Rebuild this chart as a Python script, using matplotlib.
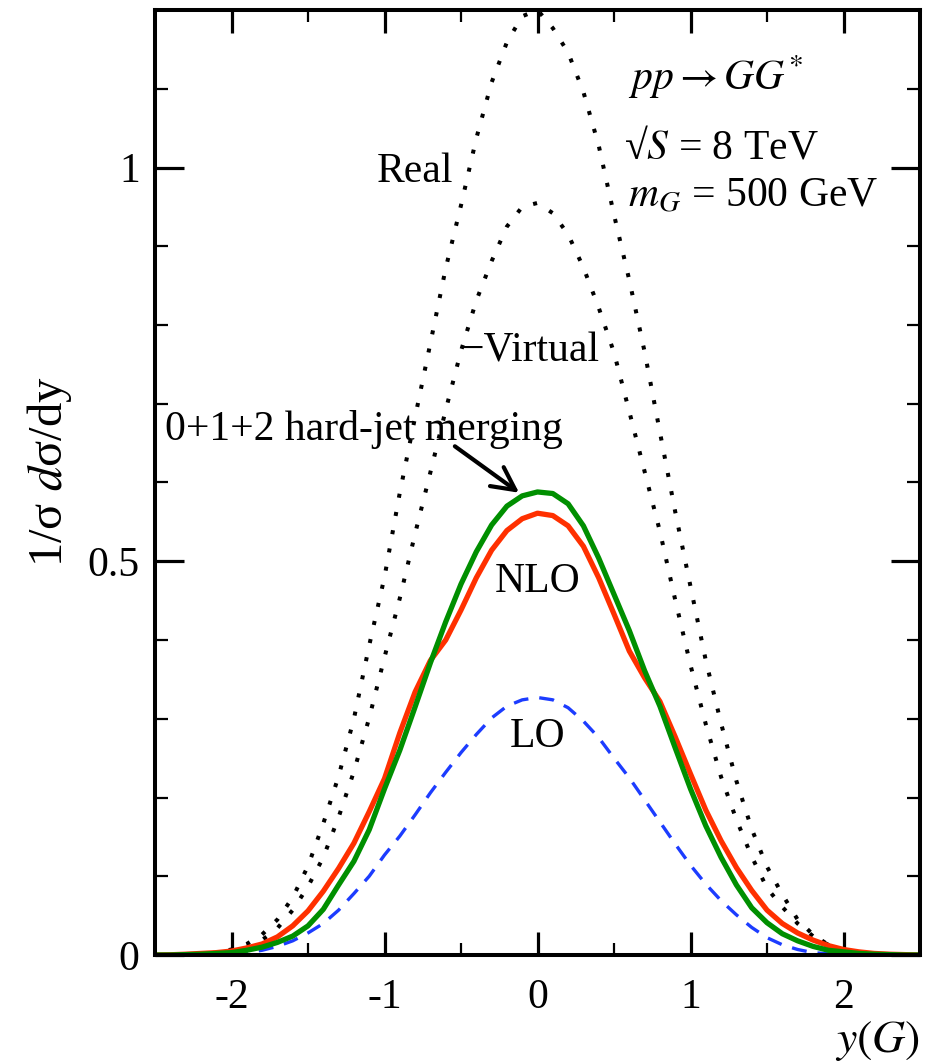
import matplotlib
matplotlib.use("Agg")
import matplotlib.pyplot as plt
from matplotlib.ticker import FixedLocator, MultipleLocator

plt.rcParams['font.family'] = ['Liberation Serif', 'DejaVu Serif']
plt.rcParams['mathtext.fontset'] = 'stix'
plt.rcParams['axes.unicode_minus'] = False

# ---------------- data ----------------
y_rap = [-2.5, -2.4, -2.3, -2.2, -2.1, -2.0, -1.9, -1.8, -1.7, -1.6, -1.5, -1.4, -1.3,
         -1.2, -1.1, -1.0, -0.9, -0.8, -0.7, -0.6, -0.5, -0.4, -0.3, -0.2, -0.1, 0.0,
         0.1, 0.2, 0.3, 0.4, 0.5, 0.6, 0.7, 0.8, 0.9, 1.0, 1.1, 1.2, 1.3, 1.4, 1.5,
         1.6, 1.7, 1.8, 1.9, 2.0, 2.1, 2.2, 2.3, 2.4, 2.5]

real = [0.0, 0.0, 0.0005, 0.001, 0.003, 0.007, 0.014, 0.026, 0.045, 0.073, 0.113, 0.167, 0.227,
        0.300, 0.393, 0.480, 0.587, 0.683, 0.777, 0.872, 0.952, 1.037, 1.108, 1.159, 1.192, 1.200,
        1.177, 1.146, 1.096, 1.028, 0.940, 0.857, 0.766, 0.664, 0.563, 0.468, 0.374, 0.294, 0.221, 0.160, 0.112,
        0.077, 0.045, 0.026, 0.013, 0.006, 0.003, 0.001, 0.0005, 0.0, 0.0]

virtual = [0.0, 0.0, 0.0003, 0.001, 0.002, 0.004, 0.009, 0.019, 0.034, 0.057, 0.087, 0.124, 0.175,
           0.233, 0.301, 0.378, 0.453, 0.535, 0.613, 0.692, 0.767, 0.831, 0.881, 0.925, 0.950, 0.955,
           0.942, 0.915, 0.873, 0.822, 0.765, 0.690, 0.614, 0.538, 0.451, 0.368, 0.293, 0.226, 0.172, 0.125, 0.085,
           0.061, 0.040, 0.024, 0.013, 0.006, 0.002, 0.001, 0.0003, 0.0, 0.0]

nlo = [0.0, 0.0003, 0.001, 0.002, 0.003, 0.005, 0.009, 0.014, 0.023, 0.037, 0.056, 0.081, 0.110,
       0.142, 0.182, 0.224, 0.282, 0.334, 0.374, 0.400, 0.438, 0.479, 0.514, 0.539, 0.554, 0.561,
       0.558, 0.545, 0.519, 0.479, 0.433, 0.386, 0.352, 0.322, 0.277, 0.230, 0.184, 0.145, 0.111, 0.082, 0.057,
       0.040, 0.028, 0.019, 0.012, 0.007, 0.004, 0.002, 0.001, 0.0005, 0.0]

merging = [0.0, 0.0, 0.0005, 0.001, 0.002, 0.003, 0.006, 0.010, 0.016, 0.024, 0.037, 0.058, 0.089,
           0.119, 0.159, 0.211, 0.260, 0.315, 0.371, 0.423, 0.471, 0.512, 0.546, 0.570, 0.583, 0.588,
           0.586, 0.573, 0.545, 0.504, 0.458, 0.412, 0.361, 0.316, 0.263, 0.211, 0.164, 0.124, 0.089, 0.060, 0.041,
           0.027, 0.018, 0.011, 0.006, 0.004, 0.002, 0.001, 0.0005, 0.0, 0.0]

lo = [0.0, 0.0, 0.0, 0.0003, 0.0006, 0.001, 0.003, 0.006, 0.011, 0.018, 0.028, 0.040, 0.057,
      0.078, 0.100, 0.127, 0.151, 0.178, 0.206, 0.232, 0.257, 0.280, 0.301, 0.316, 0.324, 0.327,
      0.324, 0.314, 0.297, 0.276, 0.250, 0.225, 0.197, 0.169, 0.141, 0.114, 0.090, 0.069, 0.051, 0.035, 0.022,
      0.013, 0.007, 0.003, 0.0015, 0.0008, 0.0003, 0.0, 0.0, 0.0, 0.0]

x_ticks = [-2, -1, 0, 1, 2]
x_ticklabels = ['-2', '-1', '0', '1', '2']
y_ticks = [0, 0.5, 1]
y_ticklabels = ['0', '0.5', '1']

# ---------------- figure ----------------
fig = plt.figure(figsize=(9.43, 10.63), dpi=100)
ax = fig.add_axes([155 / 943, 1 - 955 / 1063, (920 - 155) / 943, (955 - 10) / 1063])

FS = 30

ax.plot(y_rap, real, color='black', lw=2.9, linestyle=(0, (1, 3.6)), dash_capstyle='butt')
ax.plot(y_rap, virtual, color='black', lw=2.9, linestyle=(0, (1, 3.6)), dash_capstyle='butt')
ax.plot(y_rap, lo, color='#1c3cff', lw=2.4, linestyle=(0, (4.5, 3.3)), dash_capstyle='butt')
ax.plot(y_rap, nlo, color='#ff3000', lw=3.8, solid_joinstyle='round')
ax.plot(y_rap, merging, color='#008f00', lw=3.8, solid_joinstyle='round')

ax.set_xlim(-2.5, 2.5)
ax.set_ylim(0, 1.2)

ax.xaxis.set_major_locator(FixedLocator(x_ticks))
ax.set_xticklabels(x_ticklabels)
ax.xaxis.set_minor_locator(MultipleLocator(0.5))
ax.yaxis.set_major_locator(FixedLocator(y_ticks))
ax.set_yticklabels(y_ticklabels)
ax.yaxis.set_minor_locator(MultipleLocator(0.1))

ax.tick_params(which='both', direction='in', top=True, right=True, labelsize=FS)
ax.tick_params(axis='x', which='major', length=16.5, width=2.3, pad=17)
ax.tick_params(axis='x', which='minor', length=8.5, width=1.6)
ax.tick_params(axis='y', which='major', length=21, width=2.3, pad=11)
ax.tick_params(axis='y', which='minor', length=9.5, width=1.6)
for sp in ax.spines.values():
    sp.set_linewidth(2.9)

# labels
ax.text(-0.55, 0.981, 'Real', fontsize=FS, ha='right', va='baseline')
ax.text(-0.504, 0.7535, '\u2212Virtual', fontsize=FS, ha='left', va='baseline')
ax.text(-2.436, 0.654, '0+1+2 hard-jet merging', fontsize=FS, ha='left', va='baseline')
ax.text(0.003, 0.461, 'NLO', fontsize=FS, ha='center', va='baseline')
ax.text(0.0, 0.264, 'LO', fontsize=FS, ha='center', va='baseline')

ax.annotate('', xy=(-0.12, 0.587), xytext=(-0.54, 0.646),
            arrowprops=dict(arrowstyle='->,head_length=0.55,head_width=0.28',
                            lw=3, color='black', mutation_scale=30,
                            shrinkA=0, shrinkB=0))

ax.text(0.59, 1.099, r'$pp \rightarrow GG^{*}$', fontsize=FS, ha='left', va='baseline')
ax.text(0.565, 1.0114, '\u221a$S$ = 8 TeV', fontsize=FS, ha='left', va='baseline')
ax.text(0.59, 0.950, r'$m_G$ = 500 GeV', fontsize=FS, ha='left', va='baseline')

fig.text(920 / 943, 1 - 1052 / 1063, r'$y(G)$', fontsize=33, ha='right', va='baseline')
fig.text(50 / 943, 1 - 472 / 1063, '1/\u03c3 $d$\u03c3/dy', fontsize=35,
         rotation=90, ha='center', va='center')

fig.savefig('out.png', dpi=100)
